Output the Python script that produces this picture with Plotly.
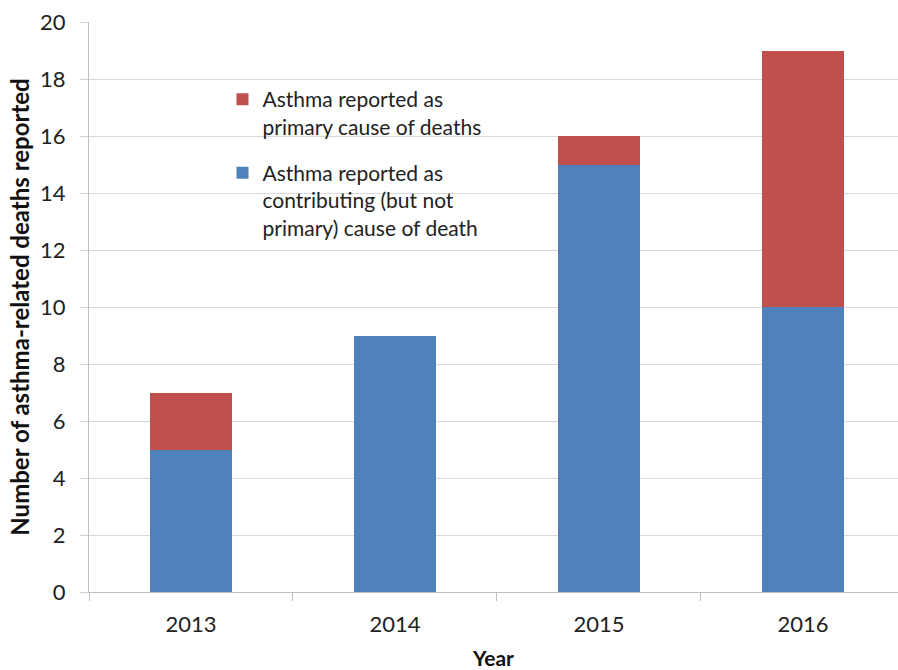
import plotly.graph_objects as go

years = ["2013", "2014", "2015", "2016"]
contributing = [5, 9, 15, 10]
primary = [2, 0, 1, 9]

name_primary = "Asthma reported as<br>primary cause of deaths"
name_contrib = "Asthma reported as<br>contributing (but not<br>primary) cause of death"

BLUE = "#4F81BD"
RED = "#C0504D"
FONT = "Lato, Carlito, Calibri, sans-serif"

fig = go.Figure()
fig.add_trace(go.Bar(x=years, y=contributing, name=name_contrib, marker_color=BLUE,
                     marker_line_width=0, legendgroup="b", legendrank=2, width=0.4))
fig.add_trace(go.Bar(x=years, y=primary, name=name_primary, marker_color=RED,
                     marker_line_width=0, legendgroup="r", legendrank=1, width=0.4))

W, H = 898, 670
L, R, T, B = 89, 0, 22, 78
fig.update_layout(
    width=W, height=H,
    margin=dict(l=L, r=R, t=T, b=B, autoexpand=False),
    barmode="stack",
    plot_bgcolor="white", paper_bgcolor="white",
    font=dict(family=FONT, size=22, color="#222222"),
    legend=dict(x=0.165, y=0.90, xanchor="left", yanchor="top",
                traceorder="grouped", tracegroupgap=16,
                valign="top", font=dict(size=21, family=FONT, color="#222222"),
                bgcolor="rgba(0,0,0,0)"),
    xaxis=dict(
        type="category", range=[-0.5, 3.466], automargin=False,
        showline=True, linecolor="#BFBFBF", linewidth=1,
        ticks="outside", ticklen=8, tickcolor="#BFBFBF", tickson="boundaries",
        ticklabelstandoff=13,
        tickfont=dict(size=22, family=FONT, color="#222222"),
        title=dict(text="<b>Year</b>", font=dict(size=21, family=FONT, color="#111111"), standoff=18),
        showgrid=False,
    ),
    yaxis=dict(
        range=[0, 20], dtick=2, tick0=0, automargin=False,
        showline=True, linecolor="#BFBFBF", linewidth=1,
        ticks="outside", ticklen=8, tickcolor="#D0D0D0",
        ticklabelstandoff=10,
        showgrid=True, gridcolor="#D9D9D9", gridwidth=1,
        zeroline=False,
        tickfont=dict(size=22, family=FONT, color="#222222"),
        title=dict(text="<b>Number of asthma-related deaths reported</b>",
                   font=dict(size=24, family=FONT, color="#111111"), standoff=3),
    ),
)

fig.write_html("out.html", config={"displayModeBar": False},
               post_script="document.body.style.margin='0px';document.body.style.overflow='hidden';")
